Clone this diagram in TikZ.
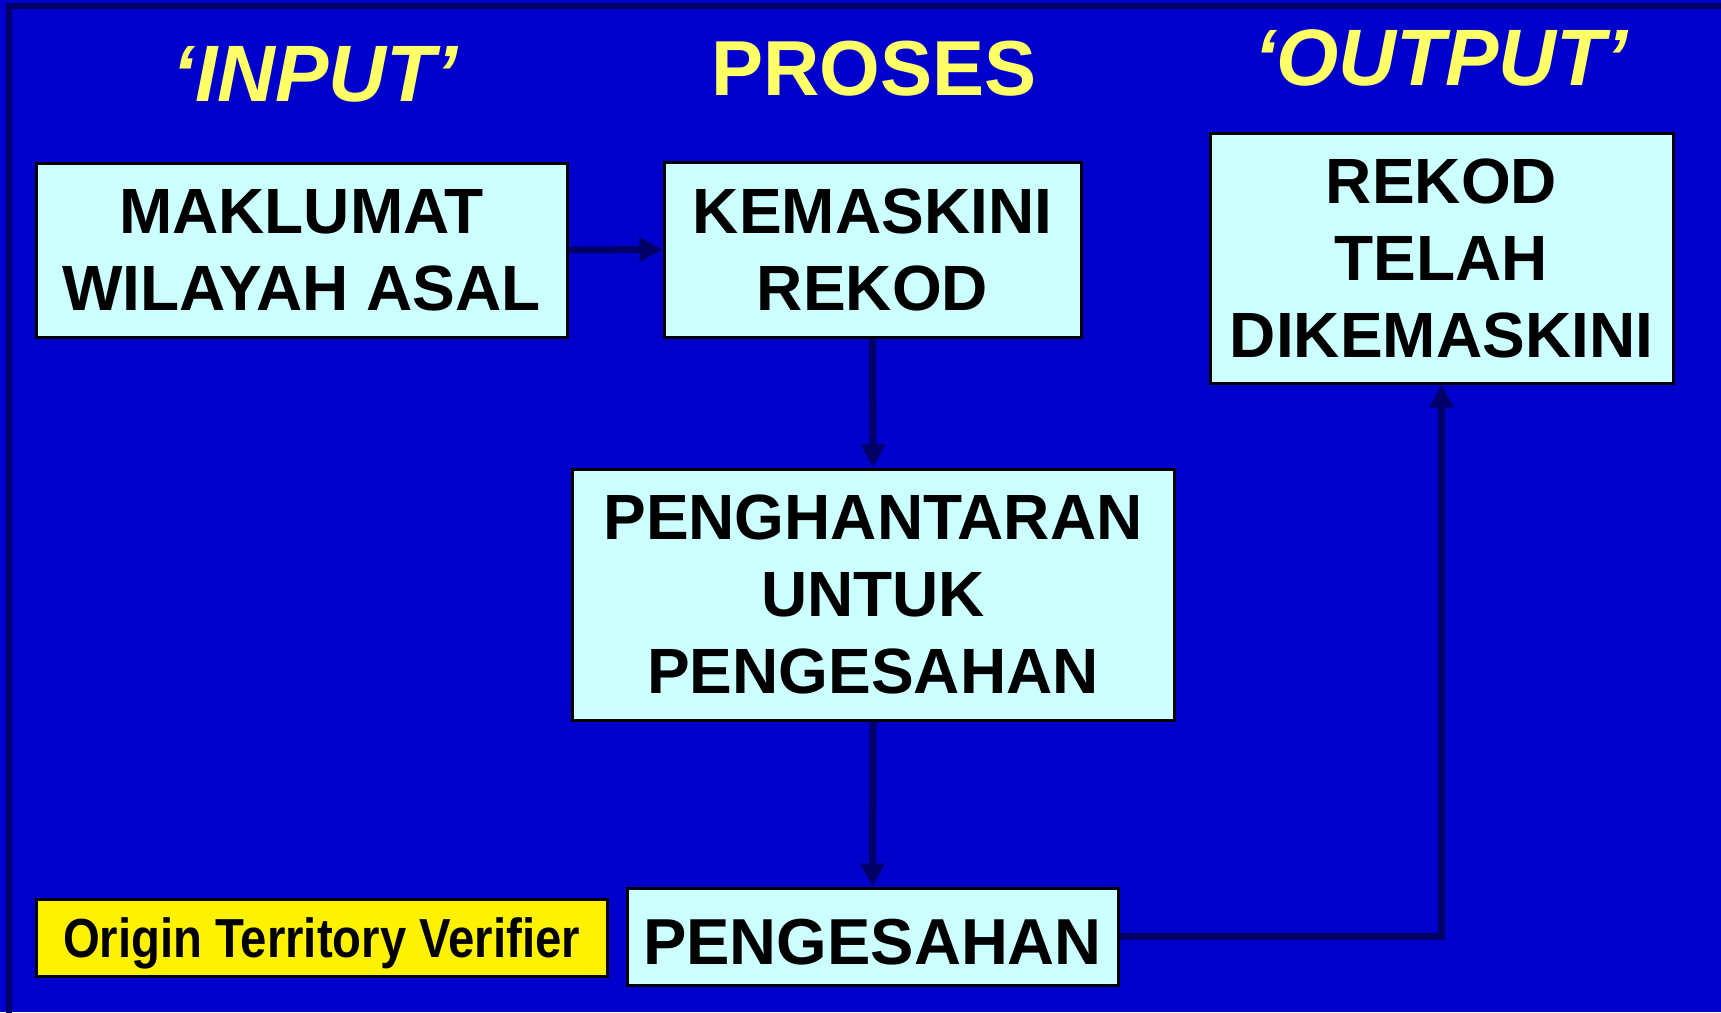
\documentclass[tikz,border=0pt]{standalone}
\usepackage{fontspec}
\setmainfont{Liberation Sans}
\newfontfamily\narrowsans{Liberation Sans}[FakeStretch=0.86]
\usetikzlibrary{arrows.meta}
\definecolor{slideblue}{HTML}{0000CC}
\definecolor{navy}{HTML}{000066}
\definecolor{boxcyan}{HTML}{CCFFFF}
\definecolor{headyellow}{HTML}{FFFF66}
\begin{document}
\begin{tikzpicture}[x=1pt,y=-1pt,
  box/.style={draw=black,line width=3pt,fill=boxcyan,inner sep=0pt,align=center,
    font=\fontsize{64}{77}\selectfont\bfseries,text=black},
  head/.style={text=headyellow,inner sep=0pt,anchor=base,
    font=\fontsize{80}{90}\selectfont\bfseries},
  flow/.style={draw=navy,line width=7pt,-{Triangle[length=23pt,width=23pt]}}]
  \useasboundingbox (0,0) rectangle (1721,1012);
  % slide background and frame
  \fill[slideblue] (0,0) rectangle (1721,1012);
  \draw[navy,line width=6pt] (9,1020) -- (9,6) -- (1730,6);

  % column headings
  \node[head,font=\fontsize{80}{90}\selectfont\bfseries\itshape] (hin) at (315,101) {‘INPUT’};
  \node[head,font=\fontsize{78}{90}\selectfont\bfseries] (hpro) at (874,95) {PROSES};
  \node[head,font=\fontsize{80}{90}\selectfont\bfseries\itshape] (hout) at (1441,85) {‘OUTPUT’};

  % process boxes
  \node[box,minimum width=531pt,minimum height=174pt] (mak) at (301.5,250) {MAKLUMAT\\WILAYAH ASAL};
  \node[box,minimum width=417pt,minimum height=175pt] (kem) at (872.5,249.5) {KEMASKINI\\REKOD};
  \node[box,minimum width=463pt,minimum height=250pt] (rek) at (1441.5,258) {REKOD\\TELAH\\DIKEMASKINI};
  \node[box,minimum width=602pt,minimum height=251pt] (hantar) at (873,594.5) {PENGHANTARAN\\UNTUK\\PENGESAHAN};
  \node[box,minimum width=491pt,minimum height=97pt,text height=56pt,
    font=\fontsize{65}{77}\selectfont\bfseries] (sah) at (872.5,936.5) {PENGESAHAN};
  \node[draw=black,line width=3pt,fill=yellow,inner sep=0pt,minimum width=571pt,minimum height=77pt,
    text height=50pt,text depth=11pt,
    font=\fontsize{55}{60}\narrowsans\bfseries] (otv) at (321.5,937.5) {Origin Territory Verifier};

  % connectors
  \draw[flow] (mak.east) -- (kem.west);
  \draw[flow] (kem.south) -- (hantar.north);
  \draw[flow] (hantar.south) -- (sah.north);
  \draw[flow] (sah.east) -| (rek.south);
\end{tikzpicture}
\end{document}
